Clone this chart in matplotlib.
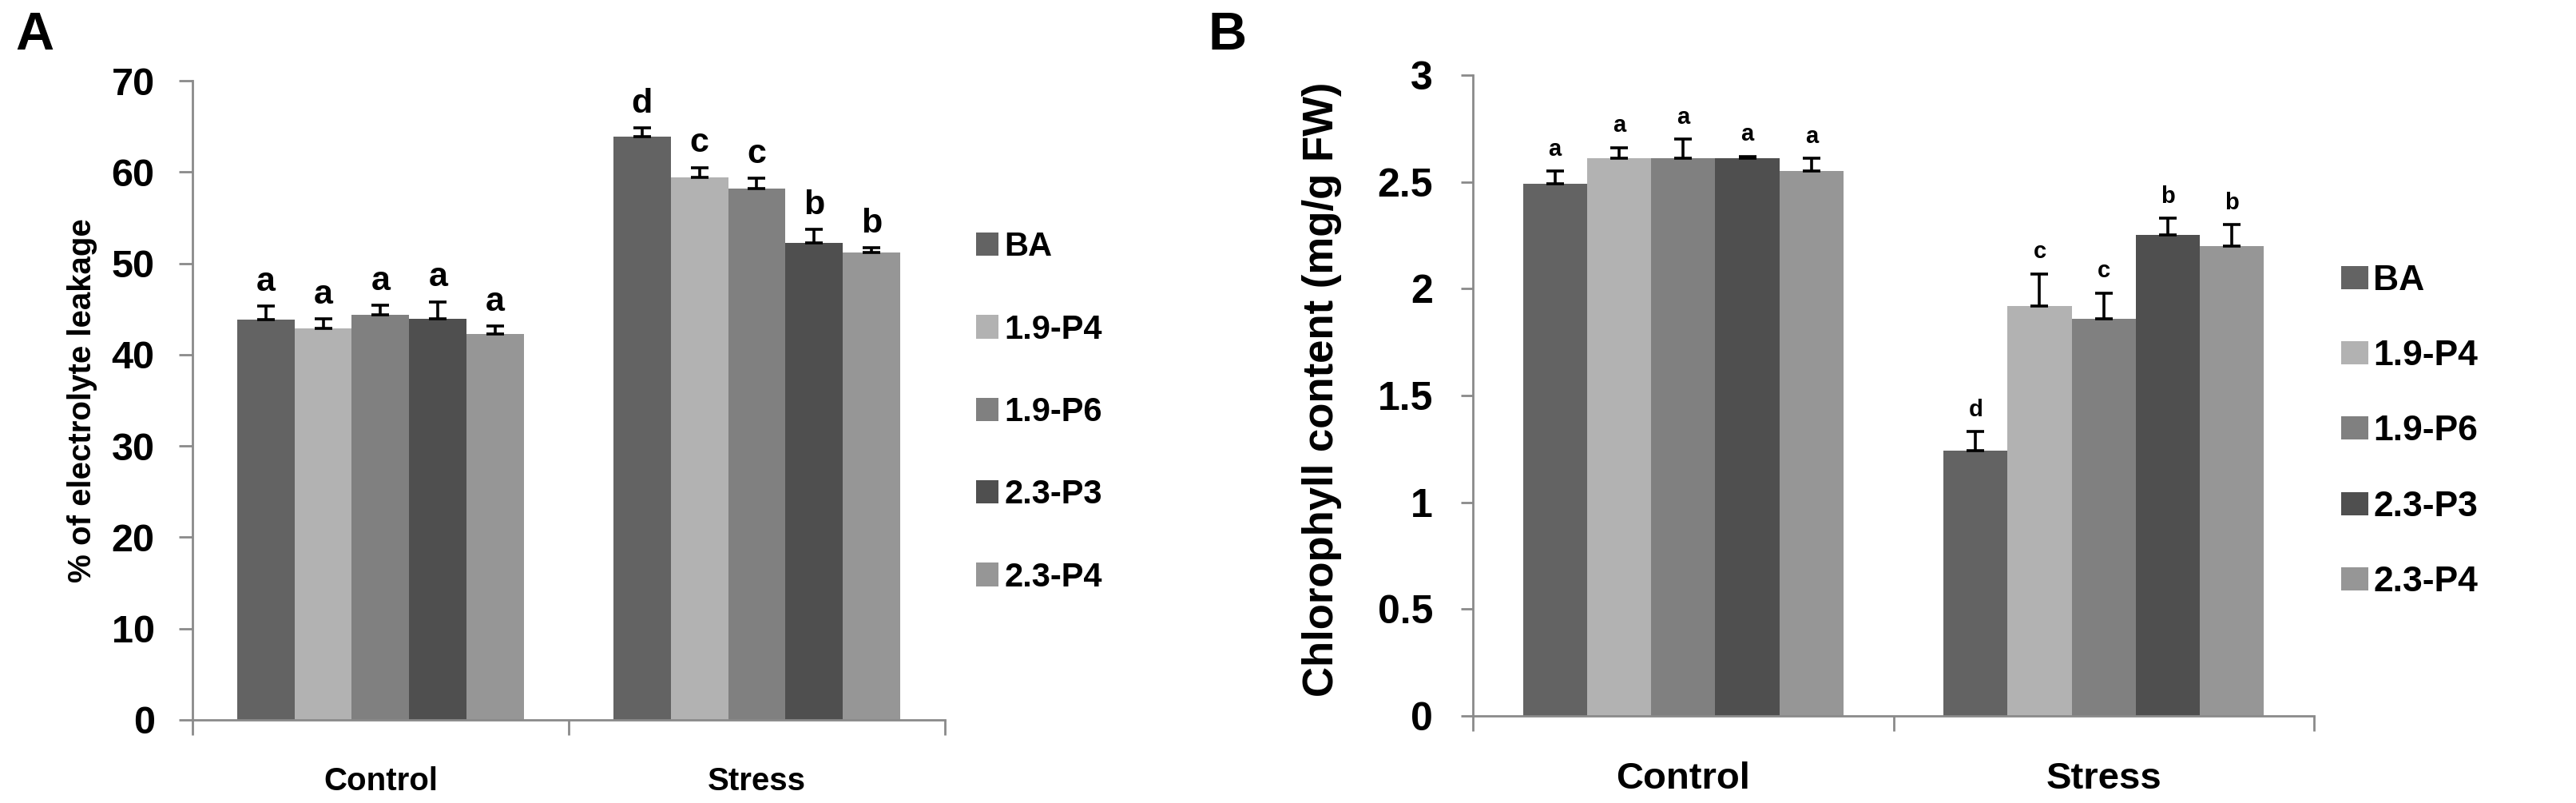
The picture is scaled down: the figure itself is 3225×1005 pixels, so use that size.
import numpy as np
import matplotlib
matplotlib.use('Agg')
import matplotlib.pyplot as plt

plt.rcParams['font.family'] = ['Liberation Sans', 'DejaVu Sans']
plt.rcParams['font.weight'] = 'bold'

grupos = ['Control', 'Stress']
tratamientos = ['BA', '1.9-P4', '1.9-P6', '2.3-P3', '2.3-P4']
colores = ['#636363', '#b2b2b2', '#808080', '#4f4f4f', '#969696']

# panel A: % electrolyte leakage (filas = tratamiento, columnas = grupo)
fuga = [[43.8, 63.9],
        [42.9, 59.4],
        [44.4, 58.2],
        [43.9, 52.2],
        [42.3, 51.2]]
fuga_err = [[1.5, 0.9],
            [1.0, 1.1],
            [1.0, 1.1],
            [1.9, 1.5],
            [0.8, 0.5]]
fuga_letras = [['a', 'd'], ['a', 'c'], ['a', 'c'], ['a', 'b'], ['a', 'b']]

# panel B: clorofila (mg/g FW)
cloro = [[2.49, 1.24],
         [2.61, 1.92],
         [2.61, 1.86],
         [2.61, 2.25],
         [2.55, 2.20]]
cloro_err = [[0.06, 0.09],
             [0.05, 0.15],
             [0.09, 0.12],
             [0.01, 0.08],
             [0.06, 0.10]]
cloro_letras = [['a', 'd'], ['a', 'c'], ['a', 'c'], ['a', 'b'], ['a', 'b']]

ancho = 0.1525
gris = '#8a8a8a'


def dibujar(ax, datos, err, letras, ymax, paso, ylabel, ylsize, ylx, yly, letsize, offset,
            ticksize, tickpad, ticklen, xlsize, xlpad, tickfmt):
    x = np.arange(len(grupos))
    n = len(tratamientos)
    for i in range(n):
        pos = x + (i - (n - 1) / 2) * ancho
        ax.bar(pos, datos[i], ancho, color=colores[i], label=tratamientos[i], zorder=2)
        ax.errorbar(pos, datos[i], yerr=[np.zeros(len(grupos)), err[i]], fmt='none',
                    ecolor='black', elinewidth=2.6, capsize=8, capthick=2.6, zorder=3)
        for j in range(len(grupos)):
            ax.text(pos[j], datos[i][j] + err[i][j] + offset, letras[i][j],
                    ha='center', va='bottom', fontsize=letsize, fontweight='bold')
    ax.set_xlim(-0.5, 1.5)
    ax.set_ylim(0, ymax)
    yt = np.arange(0, ymax + paso / 2, paso)
    ax.set_yticks(yt)
    ax.set_yticklabels([tickfmt(v) for v in yt], fontsize=ticksize, fontweight='bold')
    ax.set_xticks([-0.5, 0.5, 1.5])
    ax.set_xticklabels([])
    ax.set_xticks(x, minor=True)
    ax.set_xticklabels(grupos, minor=True, fontsize=xlsize, fontweight='bold')
    ax.tick_params(axis='x', which='major', length=14, width=2, color=gris, direction='out')
    ax.tick_params(axis='x', which='minor', length=0, pad=xlpad)
    ax.tick_params(axis='y', length=ticklen, width=2, color=gris, pad=tickpad)
    for s in ['top', 'right']:
        ax.spines[s].set_visible(False)
    for s in ['left', 'bottom']:
        ax.spines[s].set_color(gris)
        ax.spines[s].set_linewidth(2)
    ax.set_ylabel(ylabel, fontsize=ylsize, fontweight='bold')
    ax.yaxis.set_label_coords(ylx, yly)


fig = plt.figure(figsize=(32.25, 10.05), dpi=100)
axA = fig.add_axes([0.0747, 0.1035, 0.2921, 0.796])
axB = fig.add_axes([0.5718, 0.1085, 0.3265, 0.798])

dibujar(axA, fuga, fuga_err, fuga_letras, 70, 10, '% of electrolyte leakage', 29, -0.126, 0.5,
        31, 0.9, 35, 22, 12, 29, 42, lambda v: '%d' % v)
dibujar(axB, cloro, cloro_err, cloro_letras, 3, 0.5, 'Chlorophyll content (mg/g FW)', 38, -0.1557, 0.509,
        21, 0.05, 36, 25, 11, 34, 41, lambda v: ('%g' % v))

hA, lA = axA.get_legend_handles_labels()
fig.legend(hA, lA, loc='center left', bbox_to_anchor=(0.379, 0.4866), frameon=False, fontsize=30,
           borderpad=0, borderaxespad=0, handlelength=0.67, handleheight=0.7,
           handletextpad=0.18, labelspacing=1.52)
hB, lB = axB.get_legend_handles_labels()
fig.legend(hB, lB, loc='center left', bbox_to_anchor=(0.9088, 0.4627), frameon=False, fontsize=32,
           borderpad=0, borderaxespad=0, handlelength=0.77, handleheight=0.62,
           handletextpad=0.14, labelspacing=1.2)

fig.text(0.006, 0.938, 'A', fontsize=48, fontweight='bold', va='baseline')
fig.text(0.469, 0.938, 'B', fontsize=48, fontweight='bold', va='baseline')

plt.savefig('out.png', dpi=100)
